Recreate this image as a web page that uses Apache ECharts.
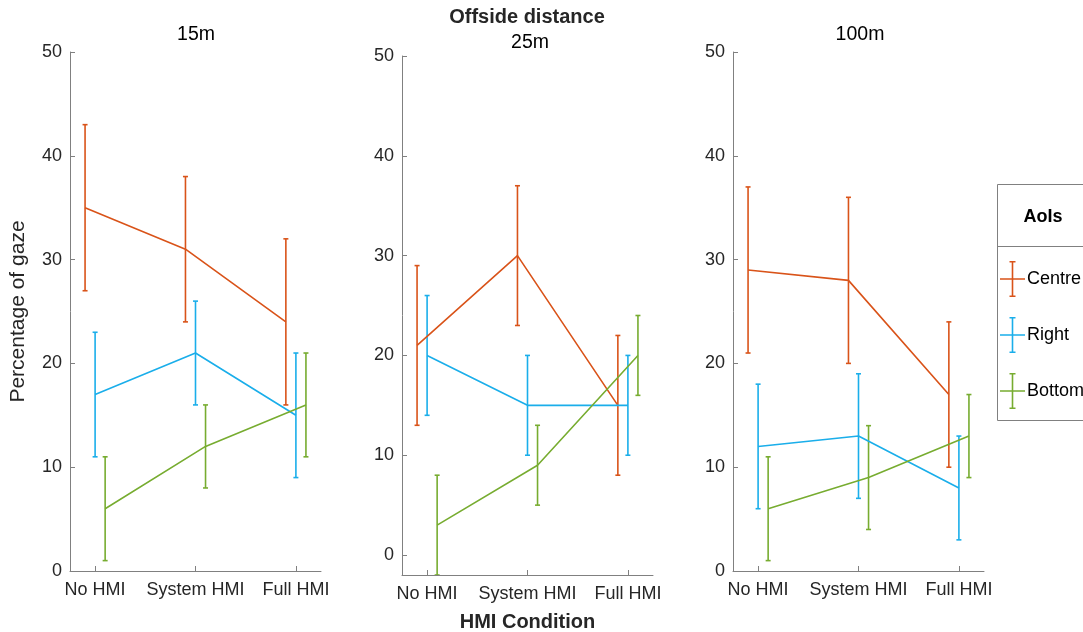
<!DOCTYPE html>
<html>
<head>
<meta charset="utf-8">
<script src="https://cdn.jsdelivr.net/npm/echarts@6/dist/echarts.min.js"></script>
<style>
html, body { margin: 0; padding: 0; background: #fff; }
#chart { width: 1083px; height: 632px; }
</style>
</head>
<body>
<div id="chart"></div>
<script>
// data
var conditions = ['No HMI', 'System HMI', 'Full HMI'];
var panels = ['15m', '25m', '100m'];
var aois = ['Centre', 'Right', 'Bottom'];
var yTicks = [0, 10, 20, 30, 40, 50];
var yMins = [0, -2, 0];

// means per panel (15m, 25m, 100m), one value per HMI condition
var centreMean = [[35, 31, 24], [21, 30, 15], [29, 28, 17]];
var rightMean = [[17, 21, 15], [20, 15, 15], [12, 13, 8]];
var bottomMean = [[6, 12, 16], [3, 9, 20], [6, 9, 13]];
// error half widths
var centreErr = [[8, 7, 8], [8, 7, 7], [8, 8, 7]];
var rightErr = [[6, 5, 6], [6, 5, 5], [6, 6, 5]];
var bottomErr = [[5, 4, 5], [5, 4, 4], [5, 5, 4]];

var colors = ['#D95319', '#1AAEEA', '#77AC30'];
var offsets = [-0.1, 0, 0.1];
var FONT = "'Liberation Sans', Arial, Helvetica, sans-serif";

var means = [centreMean, rightMean, bottomMean];
var errs = [centreErr, rightErr, bottomErr];

var grids = [
    { left: 70, top: 52, width: 251, height: 519, outerBoundsMode: 'none' },
    { left: 402, top: 56, width: 251, height: 519, outerBoundsMode: 'none' },
    { left: 733, top: 52, width: 251, height: 519, outerBoundsMode: 'none' }
];
var titleX = [196, 530, 860];
var titleY = [25, 33, 25];

function renderErr(params, api) {
    var x = api.value(0);
    var lo = api.coord([x, api.value(1)]);
    var hi = api.coord([x, api.value(2)]);
    var c = 2.5;
    var st = { stroke: api.visual('color'), lineWidth: 1.6 };
    return {
        type: 'group',
        children: [
            { type: 'line', shape: { x1: lo[0], y1: lo[1], x2: hi[0], y2: hi[1] }, style: st },
            { type: 'line', shape: { x1: hi[0] - c, y1: hi[1], x2: hi[0] + c, y2: hi[1] }, style: st },
            { type: 'line', shape: { x1: lo[0] - c, y1: lo[1], x2: lo[0] + c, y2: lo[1] }, style: st }
        ]
    };
}

var xAxes = [], yAxes = [], series = [], titles = [];
titles.push({
    text: 'Offside distance', left: 527, top: 7, textAlign: 'center', padding: 0,
    textStyle: { fontFamily: FONT, fontSize: 20, fontWeight: 'bold', color: '#262626' }
});
for (var p = 0; p < panels.length; p++) {
    titles.push({
        text: panels[p], left: titleX[p], top: titleY[p], textAlign: 'center', padding: 0,
        textStyle: { fontFamily: FONT, fontSize: 19.5, fontWeight: 'normal', color: '#000' }
    });
    xAxes.push({
        gridIndex: p, type: 'value', min: 0.75, max: 3.25,
        name: p == 1 ? 'HMI Condition' : '',
        nameLocation: 'middle', nameGap: 37,
        nameTextStyle: { fontFamily: FONT, fontSize: 20, fontWeight: 'bold', color: '#262626' },
        axisLine: { onZero: false, lineStyle: { color: '#808080', width: 1 } },
        axisTick: { inside: true, length: 5, customValues: [1, 2, 3], lineStyle: { color: '#808080' } },
        axisLabel: {
            customValues: [1, 2, 3], margin: 10,
            fontFamily: FONT, fontSize: 18, color: '#262626',
            formatter: function (v) { return conditions[Math.round(v) - 1]; }
        },
        splitLine: { show: false }
    });
    yAxes.push({
        gridIndex: p, type: 'value', min: yMins[p], max: 50,
        name: p == 0 ? 'Percentage of gaze' : '',
        nameLocation: 'middle', nameGap: 41, nameRotate: 90,
        nameTextStyle: { fontFamily: FONT, fontSize: 21, color: '#262626' },
        axisLine: { show: true, onZero: false, lineStyle: { color: '#808080', width: 1 } },
        axisTick: { show: true, inside: true, length: 5, customValues: yTicks, lineStyle: { color: '#808080' } },
        axisLabel: {
            customValues: yTicks, margin: 8,
            fontFamily: FONT, fontSize: 18, color: '#262626'
        },
        splitLine: { show: false }
    });
    for (var s = 0; s < aois.length; s++) {
        var pts = [], bars = [];
        for (var i = 0; i < conditions.length; i++) {
            var x = i + 1 + offsets[s];
            var m = means[s][p][i];
            var e = errs[s][p][i];
            pts.push([x, m]);
            bars.push([x, m - e, m + e]);
        }
        series.push({
            name: aois[s], type: 'line', xAxisIndex: p, yAxisIndex: p,
            data: pts, symbol: 'none', color: colors[s],
            lineStyle: { width: 1.6, color: colors[s] }, z: 3, silent: true
        });
        series.push({
            name: aois[s], type: 'custom', xAxisIndex: p, yAxisIndex: p,
            data: bars, renderItem: renderErr, color: colors[s],
            itemStyle: { color: colors[s] }, clip: true, z: 3, silent: true
        });
    }
}

var iconPath = 'path://M0,17.2h25v1.6h-25Z M11.7,0h1.6v36h-1.6Z M9.5,0h6v1.6h-6Z M9.5,34.4h6v1.6h-6Z';

var myChart = echarts.init(document.getElementById('chart'));
var option = {
    animation: false,
    backgroundColor: '#fff',
    title: titles,
    grid: grids,
    xAxis: xAxes,
    yAxis: yAxes,
    legend: {
        orient: 'vertical', left: 1000, top: 261, padding: 0,
        itemWidth: 25, itemHeight: 36, itemGap: 20,
        selectedMode: false,
        data: aois.map(function (n, k) {
            return { name: n, icon: iconPath, itemStyle: { color: colors[k] } };
        }),
        textStyle: { fontFamily: FONT, fontSize: 18, color: '#000', padding: [0, 0, 0, -3] },
        z: 10
    },
    graphic: [
        {
            type: 'rect', z: 5,
            shape: { x: 997.5, y: 184.5, width: 100, height: 236 },
            style: { fill: '#fff', stroke: '#808080', lineWidth: 1 }
        },
        {
            type: 'line', z: 6,
            shape: { x1: 997.5, y1: 246.5, x2: 1083, y2: 246.5 },
            style: { stroke: '#808080', lineWidth: 1 }
        },
        {
            type: 'text', z: 6, x: 1043, y: 217,
            style: {
                text: 'AoIs', fill: '#000', font: 'bold 18px ' + FONT,
                textAlign: 'center', textVerticalAlign: 'middle'
            }
        }
    ],
    series: series
};
myChart.setOption(option);
</script>
</body>
</html>
